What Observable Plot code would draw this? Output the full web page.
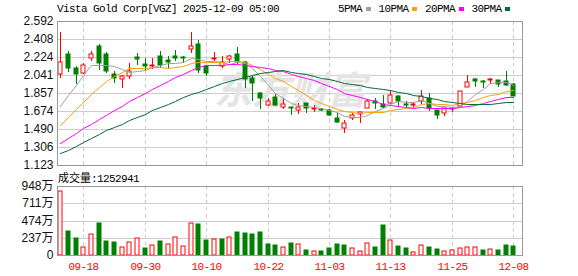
<!DOCTYPE html>
<html><head><meta charset="utf-8">
<script src="https://cdn.jsdelivr.net/npm/d3@7"></script>
<script src="https://cdn.jsdelivr.net/npm/@observablehq/plot@0.6"></script>
<style>
body{margin:0;background:#fff;}
#wrap{position:relative;width:578px;height:276px;overflow:hidden;font-family:"Liberation Mono",monospace;color:#000;}
.abs{position:absolute;}
#title{left:57px;top:3px;font-size:11px;line-height:12px;letter-spacing:-0.6px;white-space:nowrap;}
#legend{left:338px;top:3px;font-size:11px;line-height:12px;letter-spacing:-0.6px;display:flex;align-items:center;white-space:nowrap;}
.sw{display:inline-block;width:5px;height:4px;margin-left:3.5px;margin-right:8px;}
#volTitle{left:58px;top:171px;font-size:11px;line-height:12px;white-space:nowrap;}
#main{left:0;top:0;}
#vol{left:0;top:170px;}
</style></head>
<body>
<div id="wrap">
  <div id="main" class="abs"></div>
  <div id="vol" class="abs"></div>
  <div id="title" class="abs"></div>
  <div id="legend" class="abs"></div>
  <div id="volTitle" class="abs"></div>
</div>
<script>
// ---- text ----
const stockName = "Vista Gold Corp";
const stockCode = "VGZ";
const stamp = "2025-12-09 05:00";
const maNames = ["5PMA", "10PMA", "20PMA", "30PMA"];
const volLabel = "成交量";

// ---- axis ticks ----
const priceTicks = [1.123, 1.306, 1.490, 1.674, 1.857, 2.041, 2.224, 2.408, 2.592];
const volTicks = [0, 2370000, 4740000, 7110000, 9480000];
const dateTickIndex = [3, 11, 19, 27, 35, 43, 51, 59];
const dateTickLabels = ["09-18", "09-30", "10-10", "10-22", "11-03", "11-13", "11-25", "12-08"];

// ---- daily OHLC (60 sessions, 09-15 .. 12-08) ----
const open = [2.054,2.254,2.108,2.061,2.214,2.338,2.254,2.054,2.004,2.031,
  2.221,2.158,2.134,2.238,2.191,2.231,2.226,2.308,2.358,2.131,
  2.201,2.131,2.208,2.258,2.174,2.014,1.857,1.740,1.814,1.714,
  1.714,1.680,1.754,1.694,1.694,1.680,1.607,1.503,1.607,1.640,
  1.704,1.780,1.747,1.760,1.824,1.747,1.734,1.774,1.807,1.687,
  1.654,1.694,1.720,1.921,2.001,1.981,1.987,1.987,1.977,1.947];
const high = [2.475,2.288,2.131,2.161,2.288,2.355,2.271,2.081,2.037,2.164,
  2.264,2.214,2.214,2.281,2.231,2.298,2.231,2.475,2.398,2.141,
  2.274,2.231,2.248,2.331,2.181,2.031,1.864,1.807,1.847,1.807,
  1.714,1.757,1.757,1.737,1.700,1.697,1.654,1.580,1.654,1.667,
  1.797,1.807,1.841,1.891,1.837,1.780,1.764,1.887,1.854,1.687,
  1.707,1.714,1.881,2.041,2.007,1.987,2.007,1.994,2.081,1.964];
const low = [2.014,2.074,1.954,2.048,2.181,2.091,2.058,1.957,1.907,1.997,
  2.148,2.081,2.098,2.114,2.114,2.181,2.164,2.264,2.058,2.031,
  2.181,2.114,2.164,2.154,1.907,1.780,1.697,1.724,1.720,1.697,
  1.630,1.640,1.654,1.664,1.670,1.620,1.547,1.447,1.580,1.553,
  1.700,1.697,1.707,1.747,1.714,1.707,1.714,1.747,1.674,1.590,
  1.620,1.664,1.718,1.918,1.914,1.904,1.954,1.921,1.924,1.831];
const close = [2.174,2.111,2.048,2.148,2.254,2.164,2.081,2.007,2.031,2.081,
  2.201,2.138,2.148,2.141,2.171,2.211,2.216,2.338,2.091,2.064,
  2.211,2.174,2.238,2.174,1.997,1.964,1.807,1.780,1.740,1.747,
  1.700,1.712,1.706,1.709,1.684,1.634,1.560,1.547,1.634,1.664,
  1.774,1.757,1.714,1.837,1.774,1.734,1.744,1.827,1.707,1.630,
  1.700,1.704,1.874,1.974,1.981,1.974,1.997,1.947,1.943,1.831];
const closeBeforeFirst = 1.77;

// ---- volume (shares) ----
const volume = [8790000,3300000,2340000,1050000,2840000,4400000,1970000,1790000,1050000,1790000,
  2290000,960000,1330000,1920000,1510000,2430000,1190000,4350000,4260000,2060000,
  2150000,2200000,2430000,3160000,3020000,2890000,3160000,1510000,1370000,1050000,
  1690000,1510000,690000,550000,550000,960000,1510000,1370000,960000,500000,
  1650000,1100000,4120000,2060000,1240000,960000,410000,1330000,1100000,820000,
  550000,690000,960000,1100000,1100000,690000,820000,690000,1370000,1252941];

// ---- moving averages as shown ----
const ma5 = [1.727,1.841,1.941,2.045,2.147,2.145,2.139,2.131,2.107,2.073,
  2.080,2.092,2.120,2.142,2.160,2.162,2.177,2.218,2.205,2.184,
  2.184,2.176,2.156,2.172,2.159,2.109,2.036,1.944,1.858,1.808,
  1.755,1.736,1.721,1.715,1.702,1.688,1.659,1.627,1.612,1.608,
  1.636,1.675,1.709,1.749,1.771,1.763,1.761,1.783,1.757,1.728,
  1.722,1.714,1.723,1.776,1.847,1.901,1.960,1.974,1.968,1.938];
const ma10 = [1.535,1.610,1.690,1.770,1.850,1.920,1.975,2.030,2.075,2.110,
  2.113,2.115,2.125,2.126,2.117,2.122,2.135,2.168,2.174,2.173,
  2.174,2.177,2.187,2.189,2.171,2.147,2.106,2.050,2.015,1.983,
  1.932,1.885,1.833,1.786,1.754,1.721,1.697,1.673,1.663,1.654,
  1.662,1.667,1.667,1.681,1.690,1.700,1.718,1.746,1.753,1.750,
  1.742,1.737,1.753,1.767,1.788,1.812,1.837,1.849,1.873,1.893];
const ma20 = [1.344,1.395,1.446,1.497,1.543,1.589,1.635,1.681,1.727,1.773,
  1.818,1.860,1.900,1.940,1.979,2.017,2.055,2.092,2.122,2.141,
  2.143,2.146,2.156,2.157,2.144,2.134,2.121,2.109,2.095,2.078,
  2.053,2.031,2.010,1.987,1.963,1.934,1.901,1.862,1.839,1.819,
  1.797,1.776,1.750,1.733,1.722,1.710,1.707,1.710,1.708,1.702,
  1.702,1.702,1.710,1.724,1.739,1.756,1.777,1.797,1.813,1.821];
const ma30 = [1.242,1.280,1.320,1.361,1.400,1.440,1.475,1.510,1.545,1.580,
  1.612,1.645,1.680,1.712,1.745,1.778,1.812,1.845,1.870,1.900,
  1.928,1.955,1.980,2.003,2.025,2.045,2.060,2.075,2.085,2.089,
  2.073,2.059,2.048,2.033,2.014,1.997,1.979,1.964,1.951,1.937,
  1.923,1.910,1.895,1.885,1.872,1.856,1.840,1.823,1.810,1.796,
  1.779,1.763,1.751,1.744,1.744,1.744,1.750,1.756,1.763,1.766];

// ---- styling ----
const RED = "#ff0000", GREEN = "#008000";
const maColors = ["#a0a0a0", "#f2a20c", "#ff00ff", "#006a30"];
const GRID = "#cccccc", FRAME = "#999999";

const bars = open.map((o, i) => ({
  i, open: o, high: high[i], low: low[i], close: close[i],
  up: close[i] >= o,
  volume: volume[i],
  volUp: close[i] >= (i === 0 ? closeBeforeFirst : close[i - 1])
}));
const maSeries = [ma5, ma10, ma20, ma30];
const maRows = maSeries.flatMap((arr, k) => arr.map((v, i) => ({i, v, k})));

const xScale = {domain: [-0.4245, 60.13], round: true};

const main = Plot.plot({
  width: 578, height: 170,
  marginLeft: 57, marginRight: 56, marginTop: 21, marginBottom: 5,
  style: {background: "transparent", fontFamily: "'Liberation Sans', Arial, sans-serif", fontSize: "12px", color: "#111", overflow: "visible"},
  x: {...xScale, axis: null},
  y: {domain: [priceTicks[0], priceTicks[priceTicks.length - 1]], round: true, ticks: priceTicks,
      tickFormat: d => d.toFixed(3), tickSize: 0, tickPadding: 4, label: null},
  color: {type: "identity"},
  marks: [
    Plot.ruleY(priceTicks.slice(1, -1), {stroke: GRID}),
    Plot.ruleX(dateTickIndex, {stroke: GRID, strokeDasharray: "4,3"}),
    Plot.text(["东方财富"], {text: d => d, frameAnchor: "middle", dy: -2, fontSize: 38, fontWeight: "bold",
      fontStyle: "italic", fill: "#e4e4e4", fontFamily: "'Noto Sans CJK SC', sans-serif"}),
    Plot.ruleX(bars, {x: "i", y1: "low", y2: "high", stroke: d => d.up ? RED : GREEN}),
    Plot.rect(bars, {x1: "i", x2: "i", y1: "open", y2: "close", insetLeft: -2, insetRight: -2,
      fill: d => d.up ? "#ffffff" : GREEN, stroke: d => d.up ? RED : GREEN}),
    Plot.line(maRows, {x: "i", y: "v", z: "k", stroke: d => maColors[d.k], strokeWidth: 1}),
    Plot.frame({stroke: FRAME})
  ]
});
document.getElementById("main").appendChild(main);

const vol = Plot.plot({
  width: 578, height: 106,
  marginLeft: 57, marginRight: 56, marginTop: 16, marginBottom: 21,
  style: {background: "transparent", fontFamily: "'Liberation Sans', 'Noto Sans CJK SC', Arial, sans-serif", fontSize: "12px", color: "#111", overflow: "visible"},
  x: {...xScale, ticks: dateTickIndex, tickFormat: d => dateTickLabels[dateTickIndex.indexOf(d)],
      tickSize: 0, tickPadding: 7, label: null},
  y: {domain: [volTicks[0], volTicks[volTicks.length - 1]], round: true, ticks: volTicks,
      tickFormat: d => d === 0 ? "0" : (d / 10000) + "万", tickSize: 0, tickPadding: 4, label: null},
  color: {type: "identity"},
  marks: [
    Plot.ruleY(volTicks.slice(1, -1), {stroke: GRID}),
    Plot.ruleX(dateTickIndex, {stroke: GRID, strokeDasharray: "4,3"}),
    Plot.rect(bars, {x1: "i", x2: "i", y1: 0, y2: "volume", insetLeft: -2, insetRight: -2,
      fill: d => d.volUp ? "#ffffff" : GREEN, stroke: d => d.volUp ? RED : GREEN}),
    Plot.frame({stroke: FRAME})
  ]
});
document.getElementById("vol").appendChild(vol);
d3.select(vol).selectAll('[aria-label^="x-axis"]')
  .attr("fill", RED)
  .style("font-family", "'Liberation Mono', monospace")
  .style("font-size", "11px")
  .style("letter-spacing", "-0.6px");

// ---- title, legend, volume label ----
document.getElementById("title").textContent = `${stockName}[${stockCode}] ${stamp}`;
const legend = document.getElementById("legend");
maNames.forEach((name, k) => {
  const t = document.createElement("span"); t.textContent = name; legend.appendChild(t);
  const s = document.createElement("span"); s.className = "sw"; s.style.background = maColors[k]; legend.appendChild(s);
});
const vt = document.getElementById("volTitle");
const a = document.createElement("span"); a.textContent = volLabel;
a.style.fontFamily = "'Noto Sans CJK SC', sans-serif"; vt.appendChild(a);
const b = document.createElement("span"); b.textContent = ":" + volume[volume.length - 1];
b.style.letterSpacing = "-0.6px"; vt.appendChild(b);
</script>
</body></html>
